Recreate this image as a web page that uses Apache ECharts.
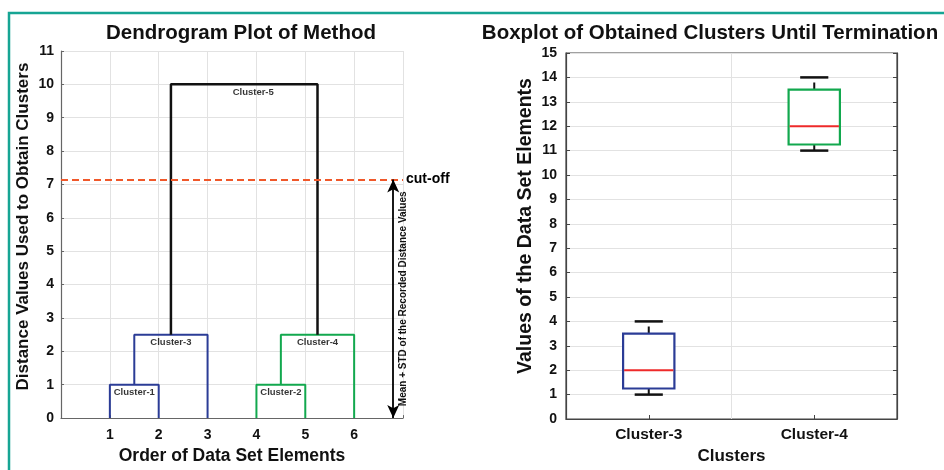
<!DOCTYPE html>
<html>
<head>
<meta charset="utf-8">
<script src="https://cdn.jsdelivr.net/npm/echarts@6/dist/echarts.min.js"></script>
<style>
  html, body { margin: 0; padding: 0; background: #fff; }
  #chart { width: 944px; height: 470px; }
</style>
</head>
<body>
<div id="chart"></div>
<script>
// ---- Dendrogram data ----
const leafTicks = [1, 2, 3, 4, 5, 6];
const mergeNames = ['Cluster-1', 'Cluster-2', 'Cluster-3', 'Cluster-4', 'Cluster-5'];
const mergeLeft = ['1', '4', 'Cluster-1', 'Cluster-2', 'Cluster-3'];
const mergeRight = ['2', '5', '3', '6', 'Cluster-4'];
const mergeHeights = [1, 1, 2.5, 2.5, 10];
const cutoffValue = 7.15;
const cutoffLabel = 'cut-off';
const spanLabel = 'Mean + STD of the Recorded Distance Values';
const arrowX = 6.8;

// ---- Boxplot data ----
const boxCategories = ['Cluster-3', 'Cluster-4'];
const boxMin = [1, 11];
const boxQ1 = [1.25, 11.25];
const boxMedian = [2, 12];
const boxQ3 = [3.5, 13.5];
const boxMax = [4, 14];

const FONT = '"Liberation Sans", Arial, sans-serif';
const BLUE = '#2B3C96';
const GREEN = '#12A84E';
const mergeColors = [BLUE, GREEN, BLUE, GREEN, '#111111'];
const boxColors = [BLUE, GREEN];

// node position (x) and height (y) for leaves and merged clusters
const nodePos = {};
leafTicks.forEach(l => { nodePos[String(l)] = { x: l, y: 0 }; });
const linkSeries = [];
const labelPoints = [];
mergeNames.forEach((name, i) => {
  const a = nodePos[mergeLeft[i]], b = nodePos[mergeRight[i]], h = mergeHeights[i];
  nodePos[name] = { x: (a.x + b.x) / 2, y: h };
  linkSeries.push({
    type: 'line', xAxisIndex: 0, yAxisIndex: 0, silent: true,
    showSymbol: false, symbol: 'none', animation: false, z: 3,
    lineStyle: { color: mergeColors[i], width: i === 4 ? 2.5 : 2 },
    data: [[a.x, a.y], [a.x, h], [b.x, h], [b.x, b.y]]
  });
  labelPoints.push({ name: name, value: [(a.x + b.x) / 2, h],
    label: { offset: i === 4 ? [9, 0] : [0, 0] } });
});

const axisLabelStyle = { fontFamily: FONT, fontWeight: 'bold', fontSize: 14, color: '#111' };
const nameStyle = { fontFamily: FONT, fontWeight: 'bold', fontSize: 17, color: '#111' };

const option = {
  animation: false,
  backgroundColor: '#fff',
  graphic: [{
    type: 'rect', silent: true, z: 0,
    shape: { x: 9, y: 13, width: 960, height: 480 },
    style: { fill: 'none', stroke: '#16A594', lineWidth: 2.5 }
  }],
  title: [
    { text: 'Dendrogram Plot of Method', left: 236, top: 18, textAlign: 'center',
      textStyle: { fontFamily: FONT, fontWeight: 'bold', fontSize: 20.5, color: '#111' } },
    { text: 'Boxplot of Obtained Clusters Until Termination', left: 705, top: 18, textAlign: 'center',
      textStyle: { fontFamily: FONT, fontWeight: 'bold', fontSize: 20.5, color: '#111' } }
  ],
  grid: [
    { left: 61, right: 541, top: 51, bottom: 50 },
    { left: 566, right: 47, top: 53, bottom: 48, show: true, borderColor: '#444', borderWidth: 1.2, backgroundColor: 'transparent' }
  ],
  xAxis: [
    { type: 'value', gridIndex: 0, min: 0, max: 7, interval: 1,
      name: 'Order of Data Set Elements', nameLocation: 'middle', nameGap: 27,
      nameTextStyle: Object.assign({}, nameStyle, { fontSize: 17.5 }),
      axisLine: { show: true, lineStyle: { color: '#666', width: 1.2 } },
      axisTick: { show: true, inside: true, length: 3, lineStyle: { color: '#666' } },
      axisLabel: Object.assign({ margin: 10, formatter: v => (leafTicks.indexOf(v) >= 0 ? String(v) : '') }, axisLabelStyle),
      splitLine: { show: true, lineStyle: { color: '#e2e2e2', width: 1 } } },
    { type: 'category', gridIndex: 1, data: boxCategories, boundaryGap: true,
      name: 'Clusters', nameLocation: 'middle', nameGap: 29,
      nameTextStyle: Object.assign({}, nameStyle, { fontSize: 17 }),
      axisLine: { show: true, lineStyle: { color: '#444', width: 1.2 } },
      axisTick: { show: true, inside: true, alignWithLabel: true, length: 4, lineStyle: { color: '#444' } },
      axisLabel: Object.assign({}, axisLabelStyle, { fontSize: 15.5, margin: 8 }),
      splitLine: { show: true, lineStyle: { color: '#e2e2e2', width: 1 } } }
  ],
  yAxis: [
    { type: 'value', gridIndex: 0, min: 0, max: 11, interval: 1,
      name: 'Distance Values Used to Obtain Clusters', nameLocation: 'middle', nameGap: 29,
      nameTextStyle: Object.assign({}, nameStyle, { padding: [0, 0, 0, 16] }),
      axisLine: { show: true, lineStyle: { color: '#666', width: 1.2 } },
      axisTick: { show: true, inside: true, length: 3, lineStyle: { color: '#666' } },
      axisLabel: Object.assign({ margin: 7 }, axisLabelStyle),
      splitLine: { show: true, lineStyle: { color: '#e2e2e2', width: 1 } } },
    { type: 'value', gridIndex: 1, min: 0, max: 15, interval: 1,
      name: 'Values of the Data Set Elements', nameLocation: 'middle', nameGap: 30,
      nameTextStyle: Object.assign({}, nameStyle, { fontSize: 19.5, padding: [0, 0, 0, 20] }),
      axisLine: { show: true, lineStyle: { color: '#444', width: 1.2 } },
      axisTick: { show: true, inside: true, length: 4, lineStyle: { color: '#444' } },
      axisLabel: Object.assign({ margin: 9 }, axisLabelStyle),
      splitLine: { show: true, lineStyle: { color: '#e2e2e2', width: 1 } } },
    // tick marks along the right border of the box panel
    { type: 'value', gridIndex: 1, position: 'right', min: 0, max: 15, interval: 1,
      axisLine: { show: true, lineStyle: { color: '#444', width: 1.2 } },
      axisTick: { show: true, inside: true, length: 4, lineStyle: { color: '#444' } },
      axisLabel: { show: false }, splitLine: { show: false } }
  ],
  series: linkSeries.concat([
    {
      type: 'scatter', xAxisIndex: 0, yAxisIndex: 0, silent: true, z: 5,
      symbolSize: 0,
      data: labelPoints,
      label: { show: true, position: 'bottom', distance: 3, formatter: p => p.name,
        fontFamily: FONT, fontWeight: 'bold', fontSize: 9.5, color: '#000' },
      markLine: {
        silent: true, animation: false,
        data: [
          [{ coord: [0, cutoffValue], symbol: 'none',
             lineStyle: { color: '#F0582A', type: [7, 4], width: 2 },
             label: { show: true, position: 'end', distance: 3, formatter: cutoffLabel,
               fontFamily: FONT, fontWeight: 'bold', fontSize: 14, color: '#000' } },
           { coord: [7, cutoffValue], symbol: 'none' }],
          [{ coord: [arrowX, 0], symbol: 'arrow',
             lineStyle: { color: '#000', type: 'solid', width: 1.8 },
             label: { show: true, position: 'insideMiddleBottom', distance: 5, formatter: spanLabel,
               fontFamily: FONT, fontWeight: 'bold', fontSize: 10, color: '#111' } },
           { coord: [arrowX, cutoffValue], symbol: 'arrow' }]
        ],
        symbolSize: [9, 13]
      }
    },
    {
      type: 'custom', xAxisIndex: 1, yAxisIndex: 1, silent: true, z: 4,
      data: boxCategories.map((c, i) => [i, boxMin[i], boxQ1[i], boxMedian[i], boxQ3[i], boxMax[i]]),
      renderItem: function (params, api) {
        const i = api.value(0);
        const band = api.size([1, 0])[0];
        const cx = api.coord([i, 0])[0];
        const yMin = api.coord([i, api.value(1)])[1];
        const yQ1 = api.coord([i, api.value(2)])[1];
        const yMed = api.coord([i, api.value(3)])[1];
        const yQ3 = api.coord([i, api.value(4)])[1];
        const yMax = api.coord([i, api.value(5)])[1];
        const bw = band * 0.31, cw = band * 0.17;
        const color = boxColors[params.dataIndex];
        return {
          type: 'group',
          children: [
            { type: 'line', shape: { x1: cx, y1: yQ3, x2: cx, y2: yMax },
              style: { stroke: '#111', lineWidth: 2, lineDash: [7, 5] } },
            { type: 'line', shape: { x1: cx, y1: yQ1, x2: cx, y2: yMin },
              style: { stroke: '#111', lineWidth: 2, lineDash: [7, 5] } },
            { type: 'line', shape: { x1: cx - cw / 2, y1: yMax, x2: cx + cw / 2, y2: yMax },
              style: { stroke: '#111', lineWidth: 2.5 } },
            { type: 'line', shape: { x1: cx - cw / 2, y1: yMin, x2: cx + cw / 2, y2: yMin },
              style: { stroke: '#111', lineWidth: 2.5 } },
            { type: 'rect', shape: { x: cx - bw / 2, y: yQ3, width: bw, height: yQ1 - yQ3 },
              style: { fill: '#fff', stroke: color, lineWidth: 2.2 } },
            { type: 'line', shape: { x1: cx - bw / 2 + 1, y1: yMed, x2: cx + bw / 2 - 1, y2: yMed },
              style: { stroke: '#EE2A2A', lineWidth: 2 } }
          ]
        };
      }
    }
  ])
};

const chart = echarts.init(document.getElementById('chart'), null, { renderer: 'canvas' });
chart.setOption(option);
</script>
</body>
</html>
